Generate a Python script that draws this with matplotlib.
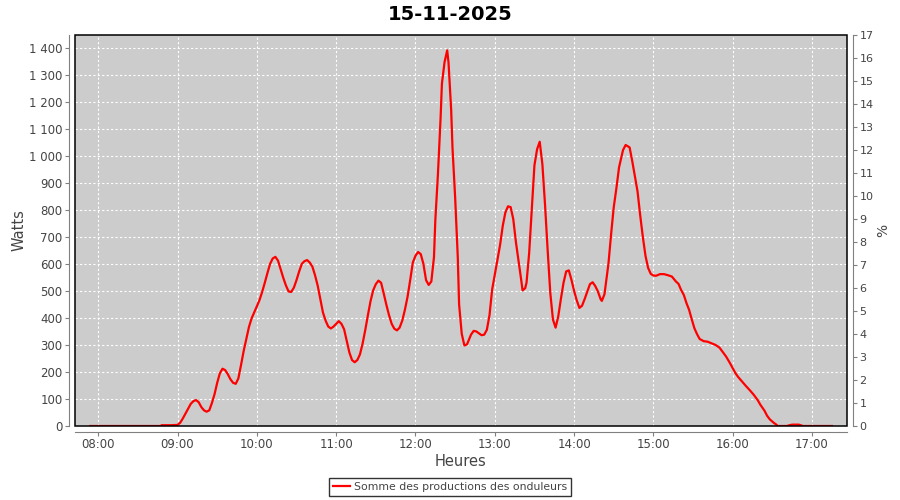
import matplotlib
matplotlib.use("Agg")
import matplotlib.pyplot as plt
from matplotlib.ticker import FuncFormatter, MultipleLocator
from matplotlib.patches import Rectangle

# Production curve (time of day, watts)
times = [
    "07:54", "08:00", "08:10", "08:20", "08:30", "08:40", "08:47", "08:48", "08:55",
    "09:00", "09:02", "09:04", "09:07", "09:10", "09:12", "09:14", "09:16", "09:18",
    "09:20", "09:22", "09:24", "09:26", "09:28", "09:30", "09:32", "09:34", "09:36",
    "09:38", "09:40", "09:42", "09:44", "09:46", "09:48", "09:50", "09:52", "09:54",
    "09:56", "09:58", "10:00", "10:02", "10:04", "10:06", "10:08", "10:10", "10:12",
    "10:14", "10:16", "10:18", "10:20", "10:22", "10:24", "10:26", "10:28", "10:30",
    "10:32", "10:34", "10:36", "10:38", "10:40", "10:42", "10:44", "10:46", "10:48",
    "10:50", "10:52", "10:54", "10:56", "10:58", "11:00", "11:02", "11:04", "11:06",
    "11:08", "11:10", "11:12", "11:14", "11:16", "11:18", "11:20", "11:22", "11:24",
    "11:26", "11:28", "11:30", "11:32", "11:34", "11:36", "11:38", "11:40", "11:42",
    "11:44", "11:46", "11:48", "11:50", "11:52", "11:54", "11:56", "11:58", "12:00",
    "12:02", "12:04", "12:06", "12:08", "12:10", "12:12", "12:14", "12:15", "12:17",
    "12:19", "12:20", "12:22", "12:24", "12:25", "12:27", "12:28", "12:30", "12:32",
    "12:33", "12:35", "12:37", "12:39", "12:42", "12:44", "12:46", "12:48", "12:50",
    "12:52", "12:54", "12:56", "12:58", "13:00", "13:02", "13:04", "13:06", "13:08",
    "13:10", "13:12", "13:14", "13:16", "13:18", "13:20", "13:21", "13:23", "13:24",
    "13:26", "13:28", "13:30", "13:32", "13:34", "13:36", "13:38", "13:40", "13:42",
    "13:44", "13:46", "13:48", "13:50", "13:52", "13:54", "13:56", "13:58", "14:00",
    "14:02", "14:04", "14:06", "14:08", "14:10", "14:12", "14:14", "14:16", "14:18",
    "14:20", "14:21", "14:23", "14:26", "14:28", "14:30", "14:32", "14:34", "14:37",
    "14:39", "14:42", "14:44", "14:46", "14:48", "14:50", "14:52", "14:54", "14:56",
    "14:58", "15:00", "15:02", "15:05", "15:08", "15:11", "15:14", "15:17", "15:19",
    "15:21", "15:23", "15:25", "15:27", "15:29", "15:31", "15:33", "15:35", "15:38",
    "15:41", "15:44", "15:47", "15:50", "15:53", "15:55", "15:58", "16:00", "16:02",
    "16:04", "16:07", "16:10", "16:13", "16:16", "16:19", "16:21", "16:24", "16:26",
    "16:28", "16:31", "16:33", "16:34", "16:41", "16:43", "16:45", "16:50", "16:52",
    "16:53", "17:00", "17:10", "17:15",
]
watts = [
    0, 0, 0, 0, 0, 0, 0, 3, 3,
    4, 12, 28, 55, 82, 92, 96, 88, 70,
    58, 53, 58, 85, 118, 160, 195, 212, 207,
    192, 173, 160, 156, 176, 225, 277, 322, 366,
    398, 420, 443, 466, 496, 530, 566, 600, 620,
    626, 612, 580, 548, 520, 498, 496, 512, 540,
    572, 600, 610, 614, 605, 590, 558, 520, 470,
    420, 390, 368, 361, 368, 378, 388, 378, 358,
    315, 272, 244, 236, 244, 265, 305, 355, 410,
    462, 502, 525, 538, 530, 490, 448, 410, 378,
    360, 354, 364, 390, 430, 478, 540, 605, 630,
    644, 636, 600, 540, 522, 535, 625, 760, 933,
    1140, 1267, 1347, 1390, 1345, 1170, 1030, 847, 625,
    450, 341, 298, 302, 338, 352, 350, 343, 336,
    338, 356, 410, 505, 560, 615, 670, 740, 790,
    813, 810, 765, 680, 610, 540, 502, 510, 530,
    640, 800, 965, 1024, 1052, 969, 820, 650, 492,
    394, 364, 405, 470, 530, 572, 576, 541, 500,
    465, 437, 445, 470, 498, 525, 532, 518, 498,
    470, 463, 488, 601, 710, 810, 880, 957, 1021,
    1040, 1031, 980, 925, 868, 780, 700, 630, 585,
    563, 557, 556, 562, 562, 558, 553, 535, 526,
    503, 485, 455, 430, 395, 362, 340, 322, 314,
    312, 306, 300, 290, 270, 257, 232, 214, 196,
    182, 165, 148, 132, 115, 95, 78, 57, 38,
    25, 12, 5, 0, 0, 3, 5, 5, 2,
    0, 0, 0, 0,
]
hour_ticks = list(range(8, 18))
series_name = "Somme des productions des onduleurs"
chart_title = "15-11-2025"

hours = [int(t[:2]) + int(t[3:]) / 60 for t in times]

plt.rcParams['font.family'] = ['DejaVu Sans']
grey = "#808080"
txt = "#444444"

fig = plt.figure(figsize=(9, 5), dpi=100)
ax = fig.add_axes([75 / 900, 74 / 500, 772 / 900, 391 / 500])
ax.set_facecolor("#cccccc")

ax.plot(hours, watts, color="#ff0000", lw=1.6, label=series_name, zorder=3)

ax.set_xlim(7.707, 17.441)
ax.set_ylim(0, 1447)
ax.set_xticks(hour_ticks)
ax.xaxis.set_major_formatter(FuncFormatter(lambda v, p: "%02d:00" % int(round(v))))
ax.yaxis.set_major_locator(MultipleLocator(100))
ax.yaxis.set_major_formatter(FuncFormatter(lambda v, p: "{:,}".format(int(v)).replace(",", " ")))
ax.grid(True, color="white", ls=(0, (2, 2)), lw=0.8)
ax.set_axisbelow(True)

for side in ["left", "bottom"]:
    ax.spines[side].set_position(("outward", 4))
    ax.spines[side].set_color(grey)
ax.spines["top"].set_visible(False)
ax.spines["right"].set_visible(False)
ax.tick_params(colors=grey, labelcolor=txt, labelsize=8.5, length=3, direction="out", pad=2)

ax.add_patch(Rectangle((0, 0), 1, 1, transform=ax.transAxes, fill=False,
                       ec="black", lw=1.1, clip_on=False, zorder=4))

ax2 = ax.twinx()
ax2.set_ylim(0, 17)
ax2.yaxis.set_major_locator(MultipleLocator(1))
for side in ["left", "bottom", "top"]:
    ax2.spines[side].set_visible(False)
ax2.spines["right"].set_position(("outward", 4))
ax2.spines["right"].set_color(grey)
ax2.tick_params(colors=grey, labelcolor=txt, labelsize=8, length=3, direction="out", pad=2)

ax.set_ylabel("Watts", fontsize=10.5, color=txt, labelpad=2)
ax.set_xlabel("Heures", fontsize=10.5, color=txt, labelpad=2)
ax2.set_ylabel("%", fontsize=10, color=txt, labelpad=2)

fig.text(0.5, 1 - 15 / 500, chart_title, ha="center", va="center",
         fontsize=14, fontweight="bold", color="black")

leg = fig.legend(loc="center", bbox_to_anchor=(0.5, 1 - 487 / 500), fontsize=7.8,
                 frameon=True, fancybox=False, handlelength=1.6, borderpad=0.35,
                 handletextpad=0.4)
leg.get_frame().set_edgecolor("black")
leg.get_frame().set_linewidth(1)
for t in leg.get_texts():
    t.set_color(txt)

fig.savefig("out.png", dpi=100)
